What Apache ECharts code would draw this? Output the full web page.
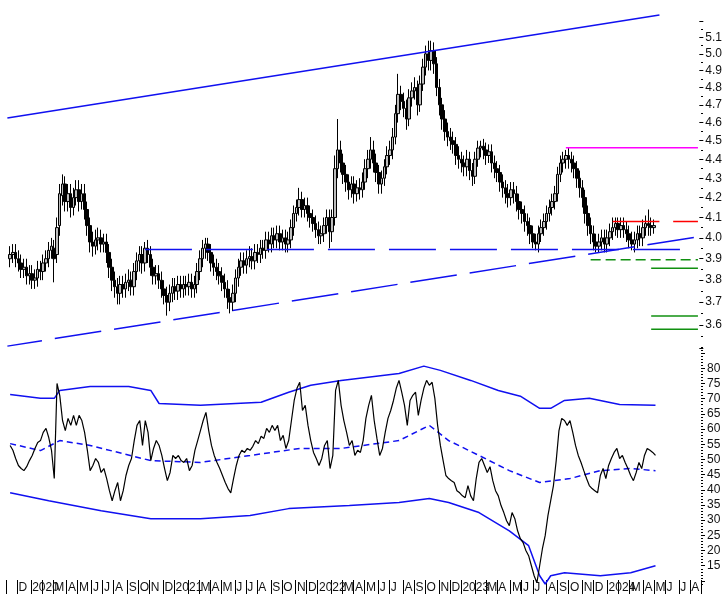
<!DOCTYPE html>
<html>
<head>
<meta charset="utf-8">
<script src="https://cdn.jsdelivr.net/npm/echarts@6/dist/echarts.min.js"></script>
<style>
html, body { margin: 0; padding: 0; background: #fff; }
#main { width: 725px; height: 594px; }
</style>
</head>
<body>
<div id="main"></div>
<script>
// weekly bars, first category is the week of 2019-10-28, first bar the week after
var firstWeek = Date.UTC(2019, 9, 28);
var weekCount = 252;
var dataStart = 1;

var open = [3.90,3.92,3.93,3.90,3.88,3.85,3.86,3.82,3.83,3.80,
3.81,3.85,3.84,3.88,3.90,3.94,3.95,3.92,4.06,4.21,
4.27,4.18,4.22,4.15,4.20,4.24,4.18,4.22,4.14,4.06,
3.98,3.96,3.99,4.00,3.97,3.98,3.93,3.86,3.80,3.77,
3.74,3.78,3.76,3.79,3.80,3.77,3.84,3.89,3.92,3.88,
3.95,3.92,3.86,3.82,3.83,3.80,3.76,3.73,3.70,3.74,
3.77,3.75,3.78,3.76,3.78,3.77,3.79,3.76,3.78,3.84,
3.90,3.95,3.97,3.93,3.88,3.86,3.84,3.82,3.79,3.76,
3.72,3.70,3.74,3.81,3.86,3.89,3.87,3.90,3.91,3.89,
3.93,3.92,3.95,3.94,3.99,3.97,4.01,3.99,4.02,3.98,
4.00,3.97,3.99,4.05,4.12,4.15,4.19,4.14,4.16,4.12,
4.10,4.07,4.04,4.01,4.02,4.06,4.10,4.03,4.10,4.35,
4.45,4.38,4.32,4.28,4.24,4.27,4.22,4.25,4.24,4.28,
4.35,4.40,4.45,4.38,4.33,4.27,4.30,4.36,4.42,4.45,
4.52,4.65,4.76,4.72,4.68,4.62,4.74,4.78,4.80,4.70,
4.82,4.92,5.00,4.96,5.02,4.94,4.80,4.70,4.62,4.55,
4.52,4.50,4.48,4.42,4.40,4.38,4.36,4.40,4.34,4.31,
4.40,4.46,4.47,4.45,4.42,4.44,4.38,4.35,4.33,4.28,
4.25,4.22,4.20,4.24,4.22,4.18,4.14,4.12,4.08,4.06,
4.02,3.98,3.97,4.02,4.05,4.08,4.12,4.15,4.18,4.22,
4.32,4.38,4.40,4.42,4.40,4.38,4.35,4.30,4.25,4.20,
4.12,4.06,4.02,3.98,3.96,3.98,4.00,3.97,4.00,4.03,
4.05,4.07,4.04,4.06,4.04,4.02,3.99,3.97,3.99,4.02,
4.00,4.05,4.07,4.06,4.05];

var close = [3.92,3.93,3.90,3.88,3.85,3.86,3.82,3.83,3.80,3.81,
3.85,3.84,3.88,3.90,3.94,3.96,3.90,4.05,4.22,4.27,
4.18,4.22,4.15,4.20,4.24,4.18,4.22,4.14,4.06,3.98,
3.96,3.99,4.00,3.97,3.98,3.93,3.86,3.80,3.77,3.74,
3.78,3.76,3.79,3.80,3.77,3.84,3.89,3.92,3.88,3.95,
3.92,3.86,3.82,3.83,3.80,3.76,3.73,3.70,3.74,3.77,
3.75,3.78,3.76,3.78,3.77,3.79,3.76,3.78,3.84,3.90,
3.95,3.97,3.93,3.88,3.86,3.84,3.82,3.79,3.76,3.72,
3.70,3.74,3.81,3.86,3.89,3.87,3.90,3.91,3.89,3.93,
3.92,3.95,3.94,3.99,3.97,4.01,3.99,4.02,3.98,4.00,
3.97,3.99,4.05,4.12,4.15,4.19,4.14,4.16,4.12,4.10,
4.07,4.04,4.01,4.02,4.06,4.10,4.03,4.10,4.35,4.45,
4.38,4.32,4.28,4.24,4.27,4.22,4.25,4.24,4.28,4.35,
4.40,4.45,4.38,4.33,4.27,4.30,4.36,4.42,4.45,4.52,
4.65,4.76,4.72,4.68,4.62,4.74,4.78,4.80,4.70,4.82,
4.92,5.00,4.96,5.02,4.94,4.80,4.70,4.62,4.55,4.52,
4.50,4.48,4.42,4.40,4.38,4.36,4.40,4.34,4.31,4.40,
4.46,4.47,4.45,4.42,4.44,4.38,4.35,4.33,4.28,4.25,
4.22,4.20,4.24,4.22,4.18,4.14,4.12,4.08,4.06,4.02,
3.98,3.97,4.02,4.05,4.08,4.12,4.15,4.18,4.22,4.32,
4.38,4.40,4.42,4.40,4.38,4.35,4.30,4.25,4.20,4.12,
4.06,4.02,3.98,3.96,3.98,4.00,3.97,4.00,4.03,4.05,
4.07,4.04,4.06,4.04,4.02,3.99,3.97,3.99,4.02,4.00,
4.05,4.07,4.06,4.05,4.06];

var low = [3.86,3.88,3.86,3.84,3.81,3.81,3.78,3.78,3.76,3.76,
3.77,3.80,3.80,3.84,3.86,3.90,3.79,3.88,4.01,4.16,
4.13,4.13,4.10,4.11,4.16,4.13,4.14,4.09,4.01,3.93,
3.91,3.92,3.94,3.93,3.93,3.88,3.81,3.75,3.72,3.69,
3.69,3.72,3.72,3.75,3.73,3.73,3.80,3.84,3.83,3.84,
3.88,3.82,3.78,3.78,3.76,3.72,3.69,3.64,3.66,3.70,
3.71,3.71,3.72,3.72,3.73,3.73,3.72,3.72,3.74,3.80,
3.86,3.90,3.89,3.84,3.82,3.80,3.78,3.75,3.72,3.67,
3.65,3.66,3.70,3.77,3.82,3.83,3.83,3.86,3.85,3.85,
3.88,3.88,3.90,3.90,3.93,3.93,3.95,3.95,3.94,3.94,
3.93,3.93,3.95,4.01,4.08,4.11,4.10,4.10,4.08,4.05,
4.03,4.00,3.97,3.97,3.98,4.02,3.95,3.98,4.06,4.30,
4.33,4.27,4.23,4.19,4.20,4.17,4.18,4.19,4.20,4.24,
4.30,4.35,4.33,4.28,4.22,4.22,4.26,4.32,4.37,4.40,
4.48,4.60,4.67,4.63,4.56,4.58,4.69,4.73,4.64,4.66,
4.78,4.87,4.90,4.90,4.88,4.75,4.64,4.56,4.50,4.47,
4.45,4.43,4.37,4.35,4.33,4.31,4.31,4.29,4.26,4.27,
4.36,4.41,4.40,4.37,4.38,4.33,4.30,4.28,4.23,4.20,
4.17,4.15,4.16,4.17,4.13,4.09,4.07,4.03,4.01,3.97,
3.95,3.94,3.93,3.98,4.01,4.04,4.08,4.11,4.14,4.18,
4.28,4.33,4.35,4.35,4.33,4.30,4.25,4.20,4.15,4.07,
4.01,3.97,3.94,3.93,3.93,3.94,3.93,3.93,3.96,3.99,
4.01,4.00,4.00,4.00,3.98,3.95,3.94,3.93,3.95,3.96,
3.96,4.01,4.01,4.01,4.02];

var high = [3.96,3.97,3.97,3.94,3.92,3.90,3.90,3.87,3.87,3.85,
3.89,3.89,3.92,3.94,3.98,4.00,3.99,4.10,4.27,4.32,
4.31,4.27,4.27,4.25,4.29,4.29,4.27,4.27,4.18,4.10,
4.03,4.04,4.05,4.04,4.02,4.02,3.97,3.90,3.84,3.81,
3.82,3.82,3.83,3.85,3.84,3.88,3.93,3.96,3.96,3.98,
3.99,3.96,3.90,3.87,3.87,3.84,3.80,3.77,3.78,3.81,
3.81,3.82,3.82,3.82,3.82,3.83,3.83,3.82,3.88,3.94,
3.99,4.00,4.00,3.97,3.92,3.90,3.88,3.86,3.83,3.80,
3.76,3.78,3.85,3.90,3.93,3.93,3.94,3.96,3.95,3.97,
3.97,3.99,3.99,4.03,4.03,4.05,4.05,4.06,4.06,4.04,
4.04,4.03,4.09,4.16,4.19,4.25,4.23,4.20,4.20,4.16,
4.14,4.11,4.08,4.06,4.10,4.14,4.14,4.14,4.42,4.62,
4.50,4.43,4.37,4.32,4.31,4.31,4.29,4.30,4.33,4.40,
4.45,4.52,4.50,4.43,4.37,4.34,4.40,4.47,4.50,4.57,
4.70,4.88,4.81,4.77,4.73,4.79,4.83,4.86,4.84,4.87,
4.97,5.05,5.08,5.08,5.07,4.98,4.85,4.74,4.67,4.60,
4.57,4.55,4.52,4.47,4.44,4.42,4.45,4.44,4.38,4.44,
4.50,4.50,4.51,4.49,4.48,4.48,4.42,4.39,4.37,4.32,
4.29,4.27,4.28,4.28,4.26,4.22,4.18,4.16,4.12,4.10,
4.06,4.02,4.06,4.09,4.12,4.16,4.19,4.22,4.26,4.36,
4.42,4.44,4.45,4.46,4.44,4.42,4.39,4.34,4.29,4.24,
4.16,4.10,4.06,4.02,4.02,4.04,4.04,4.04,4.07,4.10,
4.10,4.10,4.10,4.10,4.08,4.06,4.03,4.03,4.06,4.06,
4.09,4.11,4.14,4.10,4.09];

var rsi = [54.6,53,50.3,48,47,46.3,47.6,49.6,51.3,53.6,
55.6,56.2,58.9,60.2,57.2,53,43.7,75,71,62.8,
59.5,63.5,61.2,64.5,61.2,64.5,62.8,58.9,53,46.3,
48,50.3,49,45.7,47,43.7,39.7,36.4,39.7,42.4,
36.4,39.7,44.7,48,50.3,56.2,61.2,62.8,54.6,62.8,
58.9,49.6,53.6,56.2,54.6,51.3,47,43,45.7,51.3,
50.3,51.3,49.6,49,50.3,46.3,48,53,56.2,59.5,
62.8,65.5,59.5,54.6,51.3,49,47,44.7,42.4,40.4,
39,43.7,48,51.3,53,52.3,53.6,53,54.3,56.2,
55.2,57.6,56.9,60.2,58.9,61.2,59.5,61.2,56.2,57.9,
53.6,56.2,62.8,69.4,73.4,75.4,66.1,67.8,61.2,56.2,
52.3,50.3,48,50.3,54.6,56.2,47,51.3,72.7,76,
67.8,62.8,58.9,54.6,56.2,51.3,53,52.3,56.2,63.5,
67.8,71.1,62.8,56.9,51.3,53.6,58.9,63.5,66.1,69.4,
73.4,76,72.1,67.8,61.2,69.4,71.1,72.1,64.5,69.4,
73.4,76,74.4,75.4,70.1,61.2,54.6,49.6,44.7,43.7,
43,42.4,39.7,39,38,37.4,41.4,38,36.4,43.7,
49,50.3,48,45.7,47.6,43,39.7,38,34.8,32.5,
29.8,28.2,32.5,30.5,26.5,23.9,22.6,20,18.3,15,
11.7,9.4,15,20.6,24.9,31.5,36.4,41.4,49.6,59.5,
63.5,62.8,61.2,62.8,58.9,54.6,51.3,49,46.3,43.7,
41.4,40.4,39.7,39,44.7,47,43.7,48,50.3,52.3,
53.6,50.3,51.3,49,47,44.7,43,45.7,49,47,
51.3,53.6,53,52.3,51.3];

// bands read at a few weeks: [bar index, value]
var bandUpper = [[0,71.4],[11,70.1],[16,70.1],[18,72.7],[29,74],[43,74],[51,72.7],[54,68.4],[69,67.8],
  [91,68.8],[101,72.1],[109,74.4],[120,76],[141,78.3],[150,80.7],[156,79.3],[167,76],[177,72.7],
  [185,70.8],[192,66.8],[196,66.8],[201,69.4],[210,70.1],[221,68.1],[234,67.8]];
var bandMiddle = [[0,55.2],[11,52.9],[18,56.2],[29,54.6],[51,49.6],[69,49],[87,51.3],[105,53.6],
  [120,53.6],[141,56.2],[152,61.2],[159,56.2],[170,51.3],[181,46.3],[192,42.4],[203,43.7],
  [214,46.3],[225,47],[234,46.3]];
var bandLower = [[0,39],[14,36.4],[33,33.1],[51,30.5],[69,30.5],[87,31.5],[101,33.8],[123,34.8],
  [141,35.8],[152,37.1],[159,35.8],[170,32.5],[181,26.5],[188,21.6],[192,11.7],[194,9],[196,11.7],
  [201,12.7],[214,11.7],[225,12.7],[234,15]];

// drawn lines: [category index, price]
var trendTop = [[0,4.626],[237,5.241]];
var trendBottom = [[0,3.508],[251,4.005]];
var supportBlue = [[50,3.944],[245,3.944]];
var levelMagenta = [[203,4.462],[251,4.462]];
var levelRed = [[220,4.08],[237,4.08],[238,null],[242,4.08],[251,4.08]];
var levelGreenDash = [[212,3.895],[251,3.895]];
var levelGreen1 = [[234,3.855],[251,3.855]];
var levelGreen2 = [[234,3.639],[251,3.639]];
var levelGreen3 = [[234,3.580],[251,3.580]];

var priceLabels = [3.6,3.7,3.8,3.9,4.0,4.1,4.2,4.3,4.4,4.5,4.6,4.7,4.8,4.9,5.0,5.1];
var priceTicks = [3.5,3.6,3.7,3.8,3.9,4.0,4.1,4.2,4.3,4.4,4.5,4.6,4.7,4.8,4.9,5.0,5.1,5.2];
var priceMinor = [3.55,3.65,3.75,3.85,3.95,4.05,4.15,4.25,4.35,4.45,4.55,4.65,4.75,4.85,4.95,5.05,5.15];
var rsiLabels = [15,20,25,30,35,40,45,50,55,60,65,70,75,80];
var rsiTicks = [10,15,20,25,30,35,40,45,50,55,60,65,70,75,80,85];
var monthLetters = ['J','F','M','A','M','J','J','A','S','O','N','D'];

var DAY = 86400000;
var weeks = [], monthMark = {};
for (var k = 0; k < weekCount; k++) {
  var d = new Date(firstWeek + k * 7 * DAY);
  var e = new Date(d.getTime() + 6 * DAY);
  var key = d.toISOString().slice(0, 10);
  weeks.push(key);
  if (d.getUTCDate() === 1 || e.getUTCMonth() !== d.getUTCMonth()) {
    var m = e.getUTCMonth();
    monthMark[key] = m === 0 ? String(e.getUTCFullYear()) : (m === 1 ? '' : monthLetters[m]);
  }
}
monthMark[weeks[0]] = '';

var rsiMinor = [];
for (var r = 9; r <= 87; r++) rsiMinor.push(r);

function ln(v) { return v == null ? '-' : Math.log(v); }
function lnPairs(arr) { return arr.map(function (p) { return [p[0], ln(p[1])]; }); }
function shift(arr) { return arr.map(function (p) { return [p[0] + dataStart, p[1]]; }); }

var candles = close.map(function (c, i) {
  return [i + dataStart, ln(open[i]), ln(c), ln(low[i]), ln(high[i])];
});
var rsiLine = rsi.map(function (v, i) { return [i + dataStart, v]; });

var blue = '#1010f0';
var font = { color: '#111', fontSize: 12, fontFamily: 'Liberation Sans, Arial, sans-serif' };

function priceLine(data, color, width, type, offset) {
  return {
    type: 'line', xAxisIndex: 0, yAxisIndex: 0, data: lnPairs(data), symbol: 'none', silent: true,
    connectNulls: false, z: 5,
    lineStyle: { color: color, width: width, type: type || 'solid', dashOffset: offset || 0 }
  };
}
function rsiSeries(data, color, width, type) {
  return {
    type: 'line', xAxisIndex: 1, yAxisIndex: 2, data: data, symbol: 'none', silent: true, z: 4,
    lineStyle: { color: color, width: width, type: type || 'solid' }
  };
}

var chart = echarts.init(document.getElementById('main'));
chart.setOption({
  animation: false,
  backgroundColor: '#fff',
  grid: [
    { left: 6, right: 24, top: 12, height: 336 },
    { left: 6, right: 24, top: 347, height: 240 }
  ],
  xAxis: [
    { gridIndex: 0, type: 'category', data: weeks, boundaryGap: true,
      axisLine: { show: false }, axisTick: { show: false }, axisLabel: { show: false } },
    { gridIndex: 1, type: 'category', data: weeks, boundaryGap: true, offset: -7,
      axisLine: { show: false },
      axisTick: { show: true, length: 14, lineStyle: { color: '#000', width: 1 },
        interval: function (i, v) { return v in monthMark; } },
      axisLabel: Object.assign({ show: true, align: 'left', margin: 2,
        interval: function (i, v) { return v in monthMark; },
        formatter: function (v) { return monthMark[v] || ''; } }, font) }
  ],
  yAxis: [
    { gridIndex: 0, type: 'value', position: 'right', min: Math.log(3.5), max: Math.log(5.26),
      axisLine: { show: false }, splitLine: { show: false },
      axisTick: { show: true, length: 4, customValues: priceTicks.map(ln), lineStyle: { color: '#000' } },
      axisLabel: Object.assign({ margin: 6, customValues: priceLabels.map(ln),
        formatter: function (v) { return Math.exp(v).toFixed(1); } }, font) },
    { gridIndex: 0, type: 'value', position: 'left', offset: -695, min: Math.log(3.5), max: Math.log(5.26),
      axisLine: { show: false }, splitLine: { show: false }, axisLabel: { show: false },
      axisTick: { show: true, inside: true, length: 2, customValues: priceMinor.map(ln), lineStyle: { color: '#000' } } },
    { gridIndex: 1, type: 'value', position: 'right', min: 8, max: 87,
      axisLine: { show: false }, splitLine: { show: false },
      axisTick: { show: true, length: 4, customValues: rsiTicks, lineStyle: { color: '#000' } },
      axisLabel: Object.assign({ margin: 6, customValues: rsiLabels }, font) },
    { gridIndex: 1, type: 'value', position: 'left', offset: -695, min: 8, max: 87,
      axisLine: { show: false }, splitLine: { show: false }, axisLabel: { show: false },
      axisTick: { show: true, inside: true, length: 2, customValues: rsiMinor, lineStyle: { color: '#000' } } }
  ],
  series: [
    { type: 'candlestick', xAxisIndex: 0, yAxisIndex: 0, data: candles,
      encode: { x: 0, y: [1, 2, 3, 4] }, barWidth: 3, silent: true, z: 2,
      itemStyle: { color: '#bdbdbd', color0: '#000', borderColor: '#000', borderColor0: '#000', borderWidth: 1 } },
    priceLine(trendTop, blue, 1.5),
    priceLine(trendBottom, blue, 1.5, [47, 13], 12),
    priceLine(supportBlue, blue, 1.5, [47, 14]),
    priceLine(levelMagenta, '#ff00ff', 1.5),
    priceLine(levelRed, '#ff0000', 1.5),
    priceLine(levelGreenDash, '#109010', 1.5, [10, 5]),
    priceLine(levelGreen1, '#109010', 1.5),
    priceLine(levelGreen2, '#109010', 1.5),
    priceLine(levelGreen3, '#109010', 1.5),
    rsiSeries(shift(bandUpper), blue, 1.5),
    rsiSeries(shift(bandMiddle), blue, 1.5, [6, 4]),
    rsiSeries(shift(bandLower), blue, 1.5),
    rsiSeries(rsiLine, '#000', 1.2)
  ]
});
</script>
</body>
</html>
